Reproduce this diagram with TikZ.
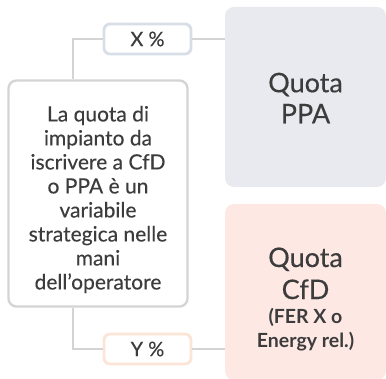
\documentclass[tikz,border=0pt]{standalone}
\usepackage{fontspec}
\setmainfont{Lato}[UprightFeatures={FakeBold=0.25}]
\definecolor{textgray}{HTML}{3C3C3C}
\definecolor{linegray}{HTML}{D4D4D4}
\definecolor{ppafill}{HTML}{E8EAEF}
\definecolor{ppaline}{HTML}{D8DEE8}
\definecolor{cfdfill}{HTML}{FDE8E4}
\definecolor{cfdline}{HTML}{FCE4D6}
\usetikzlibrary{positioning}

\begin{document}
\begin{tikzpicture}[x=1pt, y=-1pt,
    notebox/.style={draw=linegray, line width=2.4pt, rounded corners=8pt,
      inner sep=0pt},
    sharebox/.style={line width=2.8pt, rounded corners=6pt, fill=white,
      text=textgray, inner sep=0pt, minimum width=87pt, minimum height=30pt,
      font=\fontsize{20}{22}\selectfont},
    quotabox/.style={rounded corners=9pt, inner sep=0pt, minimum width=161pt},
    boxtext/.style={align=center, text=textgray, inner sep=0pt},
    link/.style={draw=linegray, line width=1.4pt}]
  \useasboundingbox (0,0) rectangle (386,379);

  % decision
  \node [notebox, minimum width=179pt, minimum height=226pt] (note) at (98,193.5) {};
  \node [boxtext, font=\fontsize{21}{24}\selectfont] (notetext)
    at ([yshift=-6pt]note.center)
    {La quota di\\impianto da\\iscrivere a CfD\\o PPA è un\\variabile\\
     strategica nelle\\mani\\dell’operatore};

  % quote
  \node [quotabox, fill=ppafill, minimum height=180pt] (ppa) at (305.5,97) {};
  \node [boxtext, font=\fontsize{27}{31}\selectfont] (ppatext)
    at ([yshift=-1pt]ppa.center) {Quota\\PPA};
  \node [quotabox, fill=cfdfill, minimum height=176pt] (cfd) at (305.5,292) {};
  \node [boxtext, font=\fontsize{27}{24}\selectfont] (cfdtext)
    at ([yshift=-7pt]cfd.center)
    {Quota\\[8pt]CfD\\
     {\fontsize{19.5}{24}\selectfont\bfseries (FER X o}\\
     {\fontsize{19.5}{24}\selectfont\bfseries Energy rel.)}};

  % percentuali
  \node [sharebox, draw=ppaline] (xs) at (147.5,39) {X \%};
  \node [sharebox, draw=cfdline] (ys) at (147.5,349) {Y \%};

  % collegamenti
  \coordinate (top) at ([xshift=-25pt]note.north);
  \coordinate (bot) at ([xshift=-25pt]note.south);
  \draw [link] (top) |- (xs.west);
  \draw [link] (xs.east) -- (ppa.west |- xs.east);
  \draw [link] (bot) |- (ys.west);
  \draw [link] (ys.east) -- (cfd.west |- ys.east);

\end{tikzpicture}
\end{document}
